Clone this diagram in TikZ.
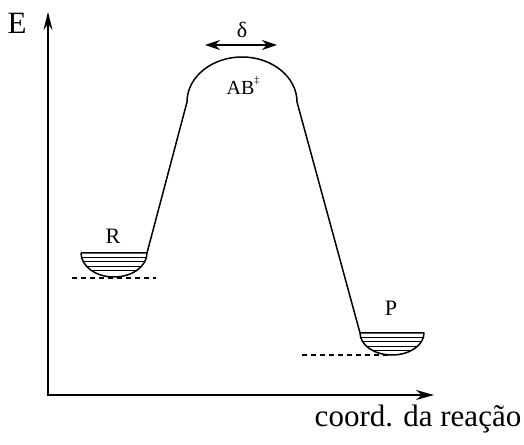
\documentclass[tikz,border=0pt]{standalone}
\usepackage{fontspec}
\setmainfont{Liberation Serif}
\usetikzlibrary{arrows.meta}

\begin{document}
\begin{tikzpicture}[x=1pt, y=1pt,
    axis/.style={line width=1.7pt, {Stealth[length=18pt,width=9pt]}-{Stealth[length=18pt,width=10pt]}},
    path/.style={line width=1.5pt, line join=round},
    level/.style={line width=1pt},
    base/.style={line width=1.1pt, dash pattern=on 5pt off 4pt},
    big/.style={font=\fontsize{31}{36}\selectfont},
    lbl/.style={font=\fontsize{22}{26}\selectfont}]
  \useasboundingbox (0,0) rectangle (524,444);
  % axes
  \coordinate (ytip) at (48,432);
  \coordinate (xtip) at (434,49);
  \draw[axis] (ytip) |- (xtip);
  \node[big] (E) at (17,421) {E};
  \node[big] (xlab) at (418,25) {coord. da reação};
  % wells: centre x / rim y / half width / depth
  \foreach \cx/\ry/\hw/\dd in {114/191/33/24, 392/111/32/22} {
    \draw[path] (\cx-\hw,\ry) -- (\cx+\hw,\ry)
      arc[start angle=0, end angle=-180, x radius=\hw, y radius=\dd];
    \foreach \d in {4.5,9,13.5,18} {
      \pgfmathsetmacro\w{\hw*sqrt(1-(\d/\dd)^2)}
      \draw[level] (\cx-\w,\ry-\d) -- (\cx+\w,\ry-\d);
    }
  }
  % dashed ground levels
  \draw[base] (72,166) -- (114,166) -- (156,166);
  \draw[base] (302,89) -- (390,89);
  % reaction path
  \coordinate (Rrim) at (147,191);
  \coordinate (TSl) at (187,342);
  \coordinate (Prim) at (360,111);
  \draw[path] (Rrim) -- (TSl)
    arc[start angle=180, end angle=0, x radius=55, y radius=45] -- (Prim);
  \node[lbl] (R) at (113,208) {R};
  \node[lbl] (P) at (391,136) {P};
  \node[font=\fontsize{20}{24}\selectfont] (AB) at (243,358)
    {AB\raisebox{1.2ex}{\fontsize{10}{12}\selectfont ‡}};
  % width of the barrier top
  \coordinate (dl) at (205,399);
  \coordinate (dr) at (277,399);
  \draw[line width=1.5pt, {Stealth[length=15pt,width=10pt]}-{Stealth[length=15pt,width=10pt]}] (dl) -- (dr);
  \node[lbl] (delta) at (242,414) {δ};
\end{tikzpicture}
\end{document}
